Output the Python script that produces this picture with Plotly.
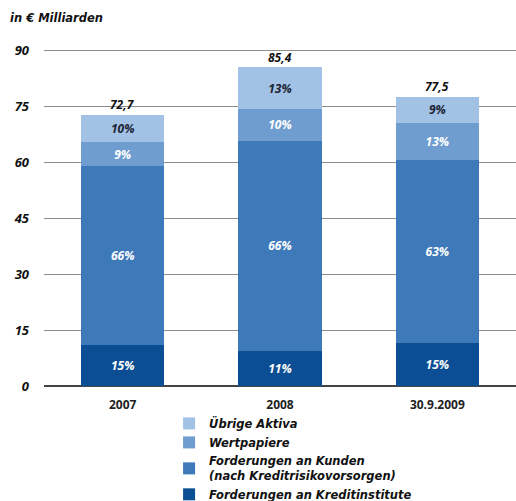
import plotly.graph_objects as go

# Balance sheet composition, in € billions
periods = ["2007", "2008", "30.9.2009"]
totals = [72.7, 85.4, 77.5]
total_labels = ["72,7", "85,4", "77,5"]

series_names = [
    "Forderungen an Kreditinstitute",
    "Forderungen an Kunden<br>(nach Kreditrisikovorsorgen)",
    "Wertpapiere",
    "Übrige Aktiva",
]
# Share of each position in the total, per period (percent)
share_kreditinstitute = [15, 11, 15]
share_kunden = [66, 66, 63]
share_wertpapiere = [9, 10, 13]
share_uebrige = [10, 13, 9]

shares = [share_kreditinstitute, share_kunden, share_wertpapiere, share_uebrige]
colors = ["#0c4e93", "#3e79b9", "#6f9dd0", "#a1c1e5"]
text_colors = ["white", "white", "white", "#1b2433"]

NUM_FONT = "Open Sans"
TXT_FONT = "DejaVu Sans"

fig = go.Figure()
for name, share, color, tcolor in zip(series_names, shares, colors, text_colors):
    values = [s / 100 * t for s, t in zip(share, totals)]
    fig.add_trace(go.Bar(
        x=periods,
        y=values,
        name=name,
        marker=dict(color=color, line=dict(width=0)),
        text=[f"{s}%" for s in share],
        textposition="inside",
        insidetextanchor="middle",
        textangle=0,
        constraintext="none",
        textfont=dict(family=NUM_FONT, size=12, color=tcolor, weight="bold", style="italic"),
    ))

# Totals above each stack
for i, (t, lab) in enumerate(zip(totals, total_labels)):
    fig.add_annotation(
        x=i, y=t, text=lab, showarrow=False, yshift=10,
        font=dict(family=NUM_FONT, size=12, color="#111111", weight="bold", style="italic"),
    )

fig.add_annotation(
    xref="paper", yref="paper", x=-36 / 472, y=1 + 31 / 337,
    xanchor="left", yanchor="middle", text="in € Milliarden", showarrow=False,
    font=dict(family=TXT_FONT, size=11.5, color="#111111", weight="bold", style="italic"),
)

fig.update_layout(
    width=516, height=501,
    margin=dict(l=44, r=0, t=49, b=115, autoexpand=False),
    barmode="stack",
    bargap=0.47,
    plot_bgcolor="white",
    paper_bgcolor="white",
    showlegend=True,
    legend=dict(
        traceorder="reversed",
        x=0.265, y=-0.068, xanchor="left", yanchor="top",
        font=dict(family=TXT_FONT, size=11.5, color="#111111", weight="bold", style="italic"),
        itemwidth=30,
        tracegroupgap=0,
        bgcolor="rgba(0,0,0,0)",
    ),
    xaxis=dict(
        type="category",
        range=[-0.5, 2.5],
        showgrid=False,
        showline=False,
        ticks="",
        ticklabelstandoff=10,
        tickfont=dict(family=NUM_FONT, size=12, color="#222222", weight="bold"),
    ),
    yaxis=dict(
        range=[0, 90.3],
        tickvals=[0, 15, 30, 45, 60, 75, 90],
        showgrid=True,
        gridcolor="#8c8c8c",
        gridwidth=1,
        zeroline=True,
        zerolinecolor="#444444",
        zerolinewidth=1.5,
        ticks="",
        ticklabelstandoff=14,
        tickfont=dict(family=NUM_FONT, size=13, color="#111111", weight="bold", style="italic"),
    ),
)

fig.write_html("out.html")
